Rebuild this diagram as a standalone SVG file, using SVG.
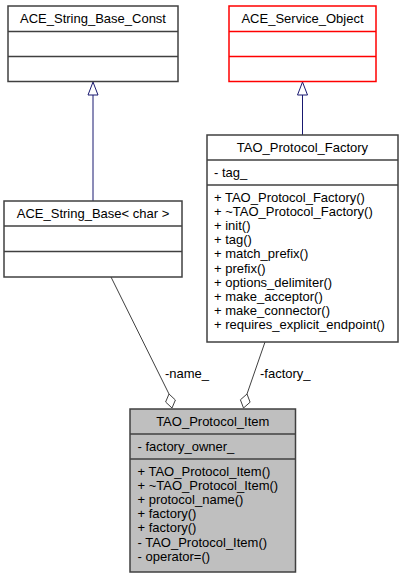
<svg xmlns="http://www.w3.org/2000/svg" width="404" height="579" viewBox="0 0 404 579">
<style>
text{font-family:"Liberation Sans",Arial,sans-serif;font-size:13px;fill:#000}
.t{text-anchor:middle}
.box{fill:#fff;stroke:#404040;stroke-width:1.5}
.red{fill:#fff;stroke:#ff0000;stroke-width:1.5}
.cur{fill:#bfbfbf;stroke:#404040;stroke-width:1.5}
.div{stroke:#404040;stroke-width:1.5}
.divr{stroke:#ff0000;stroke-width:1.5}
.inh{fill:none;stroke:#191970;stroke-width:1}
.inhh{fill:#fff;stroke:#191970;stroke-width:1}
.agg{fill:none;stroke:#404040;stroke-width:1}
.aggh{fill:#fff;stroke:#404040;stroke-width:1}
</style>
<rect width="404" height="579" fill="#fff"/>
<g id="connectors">
<line class="inh" x1="93" y1="95" x2="93" y2="201"/>
<polygon class="inhh" points="93,82 88,95 98,95"/>
<line class="inh" x1="302.5" y1="95" x2="302.5" y2="135"/>
<polygon class="inhh" points="302.5,82 297.5,95 307.5,95"/>
<path class="agg" d="M111,277 L169,394"/>
<polygon class="aggh" points="169,394 175.4,400 172,408 165.6,402"/>
<text x="165" y="378">-name_</text>
<path class="agg" d="M265,342 L247,394"/>
<polygon class="aggh" points="247,394 250.1,402.2 243.5,408 240.4,399.8"/>
<text x="260" y="378">-factory_</text>
</g>
<g id="ACE_String_Base_Const">
<rect class="box" x="8" y="6" width="170" height="75.5"/>
<line class="div" x1="8" y1="31.5" x2="178" y2="31.5"/>
<line class="div" x1="8" y1="56.5" x2="178" y2="56.5"/>
<text class="t" x="93" y="23">ACE_String_Base_Const</text>
</g>
<g id="ACE_Service_Object">
<rect class="red" x="229" y="6" width="147" height="75.5"/>
<line class="divr" x1="229" y1="31.5" x2="376" y2="31.5"/>
<line class="divr" x1="229" y1="56.5" x2="376" y2="56.5"/>
<text class="t" x="302.5" y="23">ACE_Service_Object</text>
</g>
<g id="ACE_String_Base_char">
<rect class="box" x="4" y="201" width="178" height="76"/>
<line class="div" x1="4" y1="226" x2="182" y2="226"/>
<line class="div" x1="4" y1="251.5" x2="182" y2="251.5"/>
<text class="t" x="93" y="218">ACE_String_Base&lt; char &gt;</text>
</g>
<g id="TAO_Protocol_Factory">
<rect class="box" x="207" y="135" width="191" height="207"/>
<line class="div" x1="207" y1="160" x2="398" y2="160"/>
<line class="div" x1="207" y1="185" x2="398" y2="185"/>
<text class="t" x="302.5" y="152">TAO_Protocol_Factory</text>
<text x="214" y="177">- tag_</text>
<text x="214" y="201.5">+ TAO_Protocol_Factory()</text>
<text x="214" y="215.7">+ ~TAO_Protocol_Factory()</text>
<text x="214" y="229.9">+ init()</text>
<text x="214" y="244.1">+ tag()</text>
<text x="214" y="258.3">+ match_prefix()</text>
<text x="214" y="272.5">+ prefix()</text>
<text x="214" y="286.7">+ options_delimiter()</text>
<text x="214" y="300.9">+ make_acceptor()</text>
<text x="214" y="315.1">+ make_connector()</text>
<text x="214" y="329.3">+ requires_explicit_endpoint()</text>
</g>
<g id="TAO_Protocol_Item">
<rect class="cur" x="130" y="409" width="165.5" height="163"/>
<line class="div" x1="130" y1="434" x2="295.5" y2="434"/>
<line class="div" x1="130" y1="459" x2="295.5" y2="459"/>
<text class="t" x="212.75" y="426">TAO_Protocol_Item</text>
<text x="137.5" y="451">- factory_owner_</text>
<text x="137.5" y="475.5">+ TAO_Protocol_Item()</text>
<text x="137.5" y="489.7">+ ~TAO_Protocol_Item()</text>
<text x="137.5" y="503.9">+ protocol_name()</text>
<text x="137.5" y="518.1">+ factory()</text>
<text x="137.5" y="532.3">+ factory()</text>
<text x="137.5" y="546.5">- TAO_Protocol_Item()</text>
<text x="137.5" y="560.7">- operator=()</text>
</g>
</svg>
